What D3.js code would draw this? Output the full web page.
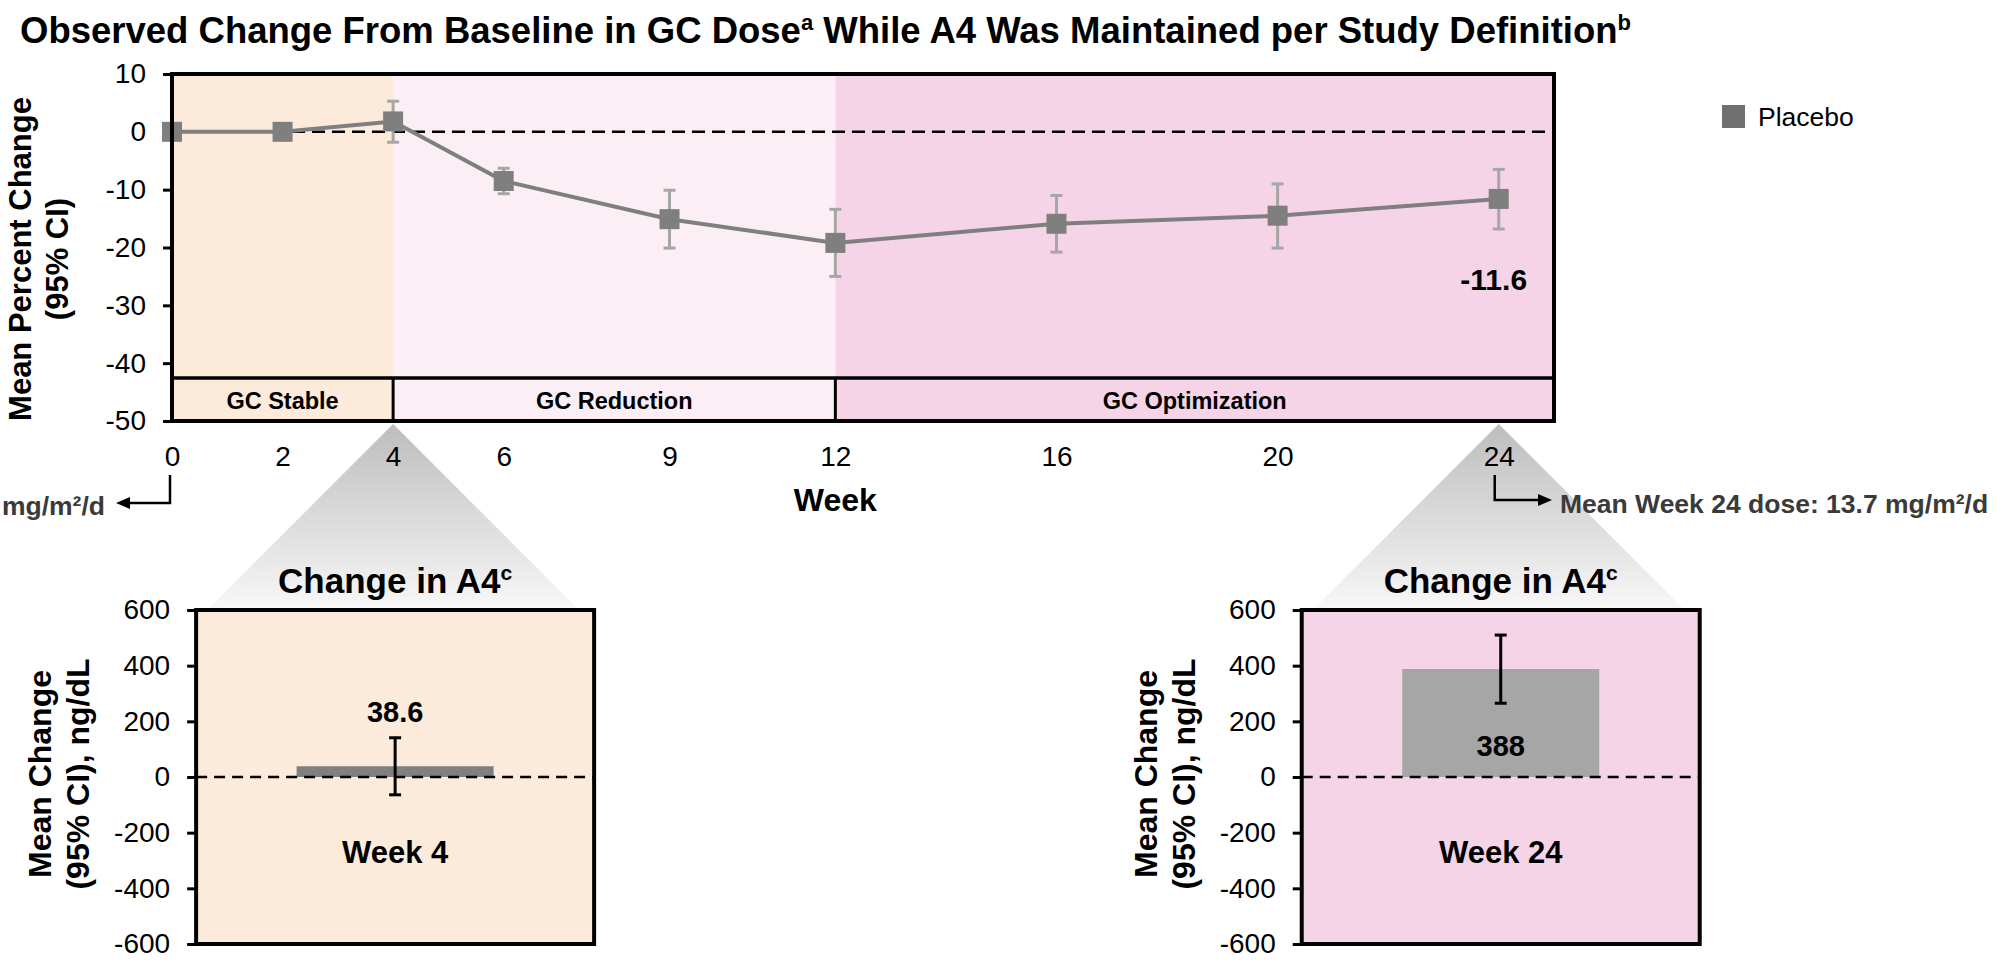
<!DOCTYPE html>
<html>
<head>
<meta charset="utf-8">
<script src="https://cdnjs.cloudflare.com/ajax/libs/d3/7.8.5/d3.min.js"></script>
<style>
  body { margin: 0; background: #fff; }
  text { font-family: 'Liberation Sans', Arial, Helvetica, sans-serif; }
</style>
</head>
<body>
<script>
/* DATA */
var weeks      = [0, 2, 4, 6, 9, 12, 16, 20, 24];
var meanPct    = [0, 0, 1.8, -8.5, -15.1, -19.2, -15.9, -14.5, -11.6];
var ciLow      = [0, 0, -1.8, -10.7, -20.1, -25.0, -20.8, -20.1, -16.8];
var ciHigh     = [0, 0, 5.3, -6.3, -10.1, -13.4, -11.0, -9.0, -6.5];
var yTicks     = [10, 0, -10, -20, -30, -40, -50];

var phaseNames = ['GC Stable', 'GC Reduction', 'GC Optimization'];
var phaseFrom  = [0, 4, 12];
var phaseTo    = [4, 12, 25];

var insetWeeks = [4, 24];
var insetMean  = [38.6, 388];
var insetLow   = [-64, 265];
var insetHigh  = [141, 510];
var insetTicks = [600, 400, 200, 0, -200, -400, -600];

var seriesName = 'Placebo';
var lastLabel  = '-11.6';

/* VARIABLES */
var w = 2011,
    h = 966,
    plot  = { left: 172, right: 1554, top: 74, bottom: 421 },
    bandH = 43,
    inset = { top: 610, bottom: 944, half: 199 };

var c = colors = {
  stable:  '#FCEBDA',
  reduce:  '#FBEFF5',
  optim:   '#F4D4E6',
  line:    '#7f7f7f',
  err:     '#a6a6a6',
  legend:  '#707070',
  barDark: '#808080',
  barLite: '#a6a6a6',
  note:    '#3a3a3a',
};
var phaseFill = [c.stable, c.reduce, c.optim];
var insetFill = [c.stable, c.optim];
var insetBar  = [c.barDark, c.barLite];

// plain hyphen for negatives, like the source slide
var plain = function(d){ return String(d); };

/* SCALES */
var x = d3.scaleLinear().domain([0, 25]).range([plot.left, plot.right]);
var y = d3.scaleLinear().domain([-50, 10]).range([plot.bottom, plot.top]);
var yi = d3.scaleLinear().domain([-600, 600]).range([inset.bottom, inset.top]);

var svg = d3.select('body').append('svg')
  .attr('width', w)
  .attr('height', h);

var grad = svg.append('defs').append('linearGradient')
  .attr('id', 'fade')
  .attr('x1', 0).attr('y1', 0).attr('x2', 0).attr('y2', 1);
grad.append('stop').attr('offset', 0).attr('stop-color', '#bdbdbd');
grad.append('stop').attr('offset', 1).attr('stop-color', '#f8f8f8');

/* TITLE */
var title = svg.append('text')
  .attr('x', 20).attr('y', 43)
  .attr('font-size', 36.5).attr('font-weight', 'bold');
title.append('tspan').text('Observed Change From Baseline in GC Dose');
title.append('tspan').attr('font-size', 22).attr('dy', -13).text('a');
title.append('tspan').attr('dy', 13).text(' While A4 Was Maintained per Study Definition');
title.append('tspan').attr('font-size', 22).attr('dy', -13).text('b');

/* CONNECTOR TRIANGLES */
svg.selectAll('.connector')
  .data(insetWeeks)
  .enter()
    .append('path')
    .attr('class', 'connector')
    .attr('fill', 'url(#fade)')
    .attr('d', function(d){
      var cx = x(d), top = plot.bottom + 3, base = inset.top;
      var half = base - top;
      return 'M' + cx + ',' + top + 'L' + (cx - half) + ',' + base + 'L' + (cx + half) + ',' + base + 'Z';
    });

/* PHASE BACKGROUNDS */
svg.selectAll('.phase')
  .data(phaseNames)
  .enter()
    .append('rect')
    .attr('class', 'phase')
    .attr('x', function(d, i){ return x(phaseFrom[i]); })
    .attr('y', plot.top)
    .attr('width', function(d, i){ return x(phaseTo[i]) - x(phaseFrom[i]); })
    .attr('height', plot.bottom - plot.top)
    .attr('fill', function(d, i){ return phaseFill[i]; });

// label row at the bottom of the plot
var bandTop = plot.bottom - bandH;
svg.append('line')
  .attr('x1', plot.left).attr('x2', plot.right)
  .attr('y1', bandTop).attr('y2', bandTop)
  .attr('stroke', '#000').attr('stroke-width', 3.5);

svg.selectAll('.divider')
  .data(phaseFrom.slice(1))
  .enter()
    .append('line')
    .attr('class', 'divider')
    .attr('x1', function(d){ return x(d); })
    .attr('x2', function(d){ return x(d); })
    .attr('y1', bandTop).attr('y2', plot.bottom)
    .attr('stroke', '#000').attr('stroke-width', 3);

svg.selectAll('.phaseLabel')
  .data(phaseNames)
  .enter()
    .append('text')
    .attr('class', 'phaseLabel')
    .attr('x', function(d, i){ return (x(phaseFrom[i]) + x(phaseTo[i])) / 2; })
    .attr('y', plot.bottom - 12)
    .attr('text-anchor', 'middle')
    .attr('font-size', 23.5).attr('font-weight', 'bold')
    .text(function(d){ return d; });

/* ZERO LINE */
svg.append('line')
  .attr('x1', plot.left).attr('x2', plot.right)
  .attr('y1', y(0)).attr('y2', y(0))
  .attr('stroke', '#000').attr('stroke-width', 2.5)
  .attr('stroke-dasharray', '13,7');

/* AXES */
var yAxis = svg.append('g')
  .attr('transform', 'translate(' + plot.left + ',0)')
  .call(d3.axisLeft(y).tickValues(yTicks).tickFormat(plain).tickSize(9).tickPadding(17));
yAxis.select('.domain').remove();
yAxis.selectAll('line').attr('stroke', '#000').attr('stroke-width', 3);
yAxis.selectAll('text').attr('font-size', 28).attr('fill', '#000')
  .attr('font-family', "'Liberation Sans', Arial, sans-serif");

var xAxis = svg.append('g')
  .attr('transform', 'translate(0,' + plot.bottom + ')')
  .call(d3.axisBottom(x).tickValues(weeks).tickFormat(plain).tickSize(0).tickPadding(25));
xAxis.select('.domain').remove();
xAxis.selectAll('text').attr('font-size', 28).attr('fill', '#000')
  .attr('font-family', "'Liberation Sans', Arial, sans-serif");

/* ERROR BARS */
var pts = weeks.map(function(wk, i){
  return { week: wk, mean: meanPct[i], lo: ciLow[i], hi: ciHigh[i] };
});

var errs = svg.selectAll('.err')
  .data(pts.filter(function(d){ return d.hi !== d.lo; }))
  .enter()
    .append('g')
    .attr('class', 'err')
    .attr('stroke', c.err)
    .attr('stroke-width', 3);
errs.append('line')
  .attr('x1', function(d){ return x(d.week); })
  .attr('x2', function(d){ return x(d.week); })
  .attr('y1', function(d){ return y(d.lo); })
  .attr('y2', function(d){ return y(d.hi); });
errs.append('line')
  .attr('x1', function(d){ return x(d.week) - 6; })
  .attr('x2', function(d){ return x(d.week) + 6; })
  .attr('y1', function(d){ return y(d.lo); })
  .attr('y2', function(d){ return y(d.lo); });
errs.append('line')
  .attr('x1', function(d){ return x(d.week) - 6; })
  .attr('x2', function(d){ return x(d.week) + 6; })
  .attr('y1', function(d){ return y(d.hi); })
  .attr('y2', function(d){ return y(d.hi); });

/* LINE + MARKERS */
svg.append('path')
  .datum(pts)
  .attr('fill', 'none')
  .attr('stroke', c.line)
  .attr('stroke-width', 4)
  .attr('d', d3.line().x(function(d){ return x(d.week); }).y(function(d){ return y(d.mean); }));

svg.selectAll('.marker')
  .data(pts)
  .enter()
    .append('rect')
    .attr('class', 'marker')
    .attr('x', function(d){ return x(d.week) - 10; })
    .attr('y', function(d){ return y(d.mean) - 10; })
    .attr('width', 20).attr('height', 20)
    .attr('fill', c.line);

/* PLOT BORDER */
svg.append('rect')
  .attr('x', plot.left).attr('y', plot.top)
  .attr('width', plot.right - plot.left)
  .attr('height', plot.bottom - plot.top)
  .attr('fill', 'none').attr('stroke', '#000').attr('stroke-width', 4);

svg.append('text')
  .attr('x', x(24) - 5).attr('y', 290)
  .attr('text-anchor', 'middle')
  .attr('font-size', 30).attr('font-weight', 'bold')
  .text(lastLabel);

/* AXIS TITLES */
svg.append('text')
  .attr('x', x(12)).attr('y', 511)
  .attr('text-anchor', 'middle')
  .attr('font-size', 32).attr('font-weight', 'bold')
  .text('Week');

[['Mean Percent Change', 31], ['(95% CI)', 68]].forEach(function(l){
  svg.append('text')
    .attr('transform', 'translate(' + l[1] + ',259) rotate(-90)')
    .attr('text-anchor', 'middle')
    .attr('font-size', 31).attr('font-weight', 'bold')
    .text(l[0]);
});

/* LEGEND */
svg.append('rect')
  .attr('x', 1722).attr('y', 105)
  .attr('width', 23).attr('height', 23)
  .attr('fill', c.legend);
svg.append('text')
  .attr('x', 1758).attr('y', 126)
  .attr('font-size', 26.5)
  .text(seriesName);

/* DOSE ARROWS */
var arrow = function(pts, tipX, tipY, dir){
  svg.append('path')
    .attr('d', d3.line()(pts))
    .attr('fill', 'none').attr('stroke', '#000').attr('stroke-width', 2.5);
  svg.append('path')
    .attr('d', 'M' + tipX + ',' + tipY + 'L' + (tipX - dir * 14) + ',' + (tipY - 6) +
               'L' + (tipX - dir * 14) + ',' + (tipY + 6) + 'Z')
    .attr('fill', '#000');
};
arrow([[x(0) - 2, 475], [x(0) - 2, 503], [125, 503]], 116, 503, -1);
arrow([[x(24) - 4, 475], [x(24) - 4, 500], [1542, 500]], 1552, 500, 1);

svg.append('text')
  .attr('x', 105).attr('y', 515)
  .attr('text-anchor', 'end')
  .attr('font-size', 26.5).attr('font-weight', 'bold').attr('fill', c.note)
  .text('mg/m²/d');
svg.append('text')
  .attr('x', 1560).attr('y', 513)
  .attr('font-size', 26.5).attr('font-weight', 'bold').attr('fill', c.note)
  .text('Mean Week 24 dose: 13.7 mg/m²/d');

/* INSETS */
insetWeeks.forEach(function(wk, i){
  var cx = x(wk) + 2,
      left = cx - inset.half,
      right = cx + inset.half,
      g = svg.append('g').attr('class', 'inset');

  g.append('rect')
    .attr('x', left).attr('y', inset.top)
    .attr('width', right - left).attr('height', inset.bottom - inset.top)
    .attr('fill', insetFill[i]);

  g.append('rect')
    .attr('x', cx - 98.5).attr('width', 197)
    .attr('y', yi(insetMean[i]))
    .attr('height', yi(0) - yi(insetMean[i]))
    .attr('fill', insetBar[i]);

  g.append('line')
    .attr('x1', left).attr('x2', right)
    .attr('y1', yi(0)).attr('y2', yi(0))
    .attr('stroke', '#000').attr('stroke-width', 2.5)
    .attr('stroke-dasharray', '11,7');

  // error bar
  [[cx, cx, yi(insetLow[i]), yi(insetHigh[i])],
   [cx - 6, cx + 6, yi(insetLow[i]), yi(insetLow[i])],
   [cx - 6, cx + 6, yi(insetHigh[i]), yi(insetHigh[i])]].forEach(function(s){
    g.append('line')
      .attr('x1', s[0]).attr('x2', s[1]).attr('y1', s[2]).attr('y2', s[3])
      .attr('stroke', '#000').attr('stroke-width', 3);
  });

  var inside = insetMean[i] > 200;
  g.append('text')
    .attr('x', cx)
    .attr('y', inside ? yi(0) - 21 : yi(insetHigh[i]) - 16)
    .attr('text-anchor', 'middle')
    .attr('font-size', 29).attr('font-weight', 'bold')
    .text(insetMean[i]);

  g.append('text')
    .attr('x', cx).attr('y', yi(0) + 86)
    .attr('text-anchor', 'middle')
    .attr('font-size', 31).attr('font-weight', 'bold')
    .text('Week ' + wk);

  g.append('rect')
    .attr('x', left).attr('y', inset.top)
    .attr('width', right - left).attr('height', inset.bottom - inset.top)
    .attr('fill', 'none').attr('stroke', '#000').attr('stroke-width', 4);

  var ax = g.append('g')
    .attr('transform', 'translate(' + left + ',0)')
    .call(d3.axisLeft(yi).tickValues(insetTicks).tickFormat(plain).tickSize(9).tickPadding(17));
  ax.select('.domain').remove();
  ax.selectAll('line').attr('stroke', '#000').attr('stroke-width', 3);
  ax.selectAll('text').attr('font-size', 28).attr('fill', '#000')
    .attr('font-family', "'Liberation Sans', Arial, sans-serif");

  var t = g.append('text')
    .attr('x', cx).attr('y', 593)
    .attr('text-anchor', 'middle')
    .attr('font-size', 35).attr('font-weight', 'bold');
  t.append('tspan').text('Change in A4');
  t.append('tspan').attr('font-size', 21).attr('dy', -13).text('c');

  [['Mean Change', -145], ['(95% CI), ng/dL', -107]].forEach(function(l){
    g.append('text')
      .attr('transform', 'translate(' + (left + l[1]) + ',774) rotate(-90)')
      .attr('text-anchor', 'middle')
      .attr('font-size', 32).attr('font-weight', 'bold')
      .text(l[0]);
  });
});
</script>
</body>
</html>
